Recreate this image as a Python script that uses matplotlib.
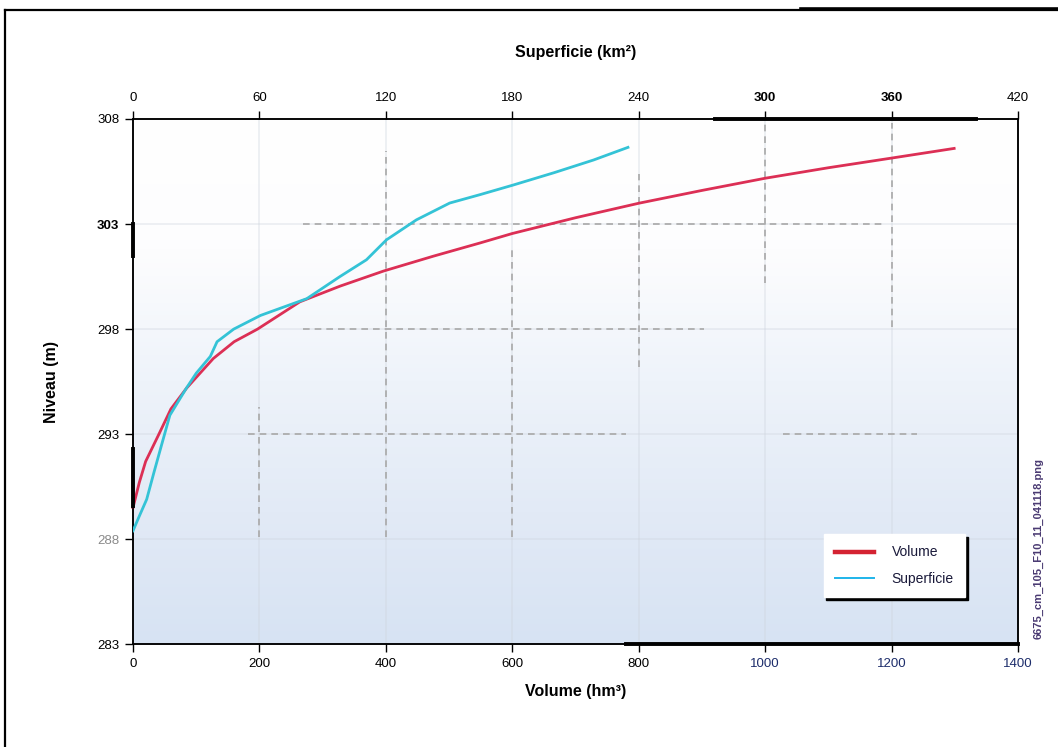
"""Courbe hauteur-volume-superficie de la retenue."""
import numpy as np
import matplotlib
matplotlib.use("Agg")
import matplotlib.pyplot as plt
from matplotlib.colors import LinearSegmentedColormap
from matplotlib.lines import Line2D

plt.rcParams["font.family"] = ["Liberation Sans", "DejaVu Sans"]

# volume curve (hm3 vs m)
vol = [0, 10, 20, 41, 60, 85, 127, 160, 197, 264, 328, 396, 475, 549, 600,
       700, 800, 900, 1000, 1100, 1200, 1299]
niv_vol = [289.5, 290.7, 291.7, 293.0, 294.2, 295.2, 296.6, 297.4, 298.0, 299.3,
           300.05, 300.76, 301.47, 302.1, 302.55, 303.3, 303.99, 304.6, 305.18,
           305.68, 306.14, 306.6]

# surface curve (km2 vs m)
sup = [0, 3, 6.5, 10, 13.6, 17.5, 25.4, 30, 36.7, 39.9, 47.8, 60.5, 82.5, 98.2,
       110.8, 120.3, 134.5, 150.3, 164.7, 180.2, 200, 218.6, 234.9]
niv_sup = [288.4, 289.1, 289.9, 291.2, 292.5, 293.9, 295.2, 295.9, 296.7, 297.4,
           298.0, 298.65, 299.45, 300.5, 301.3, 302.25, 303.2, 304.0, 304.4,
           304.85, 305.45, 306.05, 306.65]

vol_ticks = list(range(0, 1401, 200))
sup_ticks = list(range(0, 421, 60))
niv_ticks = list(range(283, 309, 5))

# partial dashed grid segments, in volume/level units
GRID_H = [(303, 269, 1191), (298, 269, 903), (293, 182, 780), (293, 1028, 1240)]
GRID_V = [(200, 288.1, 294.3), (400, 288.1, 306.5), (600, 288.1, 301.9),
          (800, 296.2, 305.4), (1000, 300.2, 307.8), (1200, 298.1, 307.8)]

fig = plt.figure(figsize=(10.58, 7.47), dpi=100)
ax = fig.add_axes([0.1257, 0.1375, 0.8365, 0.7032])

# white-to-blue wash behind the plot
wash = LinearSegmentedColormap.from_list(
    "wash", ["#ffffff", "#fdfdfe", "#eef3fa", "#e2eaf6", "#d7e3f3"])
grad = np.linspace(0, 1, 256).reshape(-1, 1)
ax.imshow(grad, cmap=wash, aspect="auto", extent=[0, 1400, 283, 308],
          origin="upper", zorder=0)

ax.set_xlim(0, 1400)
ax.set_ylim(283, 308)

# faint full grid, then the dashed pieces
for v in vol_ticks[1:-1]:
    ax.axvline(v, color="#cfd5de", lw=1.4, alpha=0.35, zorder=1)
for n in niv_ticks[1:-1]:
    ax.axhline(n, color="#cfd5de", lw=1.4, alpha=0.35, zorder=1)
for y, x0, x1 in GRID_H:
    ax.hlines(y, x0, x1, color="#a8a8a8", lw=1.2, linestyles=(0, (4, 3)), zorder=2)
for x, y0, y1 in GRID_V:
    ax.vlines(x, y0, y1, color="#a8a8a8", lw=1.2, linestyles=(0, (4, 3)), zorder=2)

ax.plot(vol, niv_vol, color="#dc2f55", lw=2.0, zorder=4, clip_on=False)

ax.set_xticks(vol_ticks)
ax.set_yticks(niv_ticks)
ax.tick_params(direction="out", length=6, width=1, labelsize=9.5, pad=4)
for lab in ax.get_xticklabels():
    if lab.get_text() in ("1000", "1200", "1400"):
        lab.set_color("#1d2d6b")
for lab in ax.get_yticklabels():
    if lab.get_text() == "303":
        lab.set_fontweight("bold")
    if lab.get_text() == "288":
        lab.set_color("#8a8a8a")
ax.set_xlabel("Volume (hm³)", fontsize=11.5, fontweight="bold", labelpad=10)
ax.set_ylabel("Niveau (m)", fontsize=11.5, fontweight="bold", labelpad=27)

ax2 = ax.twiny()
ax2.set_xlim(0, 420)
ax2.plot(sup, niv_sup, color="#34c3d6", lw=2.0, zorder=4)
ax2.set_xticks(sup_ticks)
ax2.tick_params(direction="out", length=6, width=1, labelsize=9.5, pad=5)
for lab in ax2.get_xticklabels():
    if lab.get_text() in ("300", "360"):
        lab.set_fontweight("bold")
ax2.set_xlabel("Superficie (km²)", fontsize=11.5, fontweight="bold", labelpad=25)

for a in (ax, ax2):
    for s in a.spines.values():
        s.set_linewidth(1.1)
        s.set_color("black")

# heavier stretches on the axis lines
ax.plot([780, 1400], [283, 283], color="black", lw=2.8, clip_on=False, zorder=5)
ax2.plot([276, 400], [308, 308], color="black", lw=2.8, clip_on=False, zorder=5)
ax.plot([0, 0], [301.5, 303], color="black", lw=2.8, clip_on=False, zorder=5)
ax.plot([0, 0], [289.6, 292.3], color="black", lw=2.8, clip_on=False, zorder=5)

handles = [Line2D([], [], color="#d42332", lw=3.2),
           Line2D([], [], color="#1eb4ea", lw=1.4)]
leg = ax.legend(handles, ["Volume", "Superficie"], loc="lower right",
                bbox_to_anchor=(0.94, 0.09), fontsize=10, frameon=True,
                fancybox=False, shadow={"color": "black", "alpha": 1.0},
                borderpad=0.8, labelspacing=0.9, handlelength=2.8,
                handletextpad=1.3, borderaxespad=0)
leg.get_frame().set_facecolor("white")
leg.get_frame().set_edgecolor("white")
leg.get_frame().set_alpha(1)
for t in leg.get_texts():
    t.set_color("#1a1a3a")

fig.text(0.982, 0.266, "6675_cm_105_F10_11_041118.png", rotation=90,
         fontsize=8, fontweight="bold", color="#4a3a72",
         ha="center", va="center")

# page frame
fig.add_artist(Line2D([0.0047, 0.0047], [0, 0.9866], color="black", lw=1.6))
fig.add_artist(Line2D([0.0047, 1.0], [0.9866, 0.9866], color="black", lw=1.6))
fig.add_artist(Line2D([0.757, 1.0], [0.9885, 0.9885], color="black", lw=2.6))

fig.savefig("out.png", dpi=100, facecolor="white")
